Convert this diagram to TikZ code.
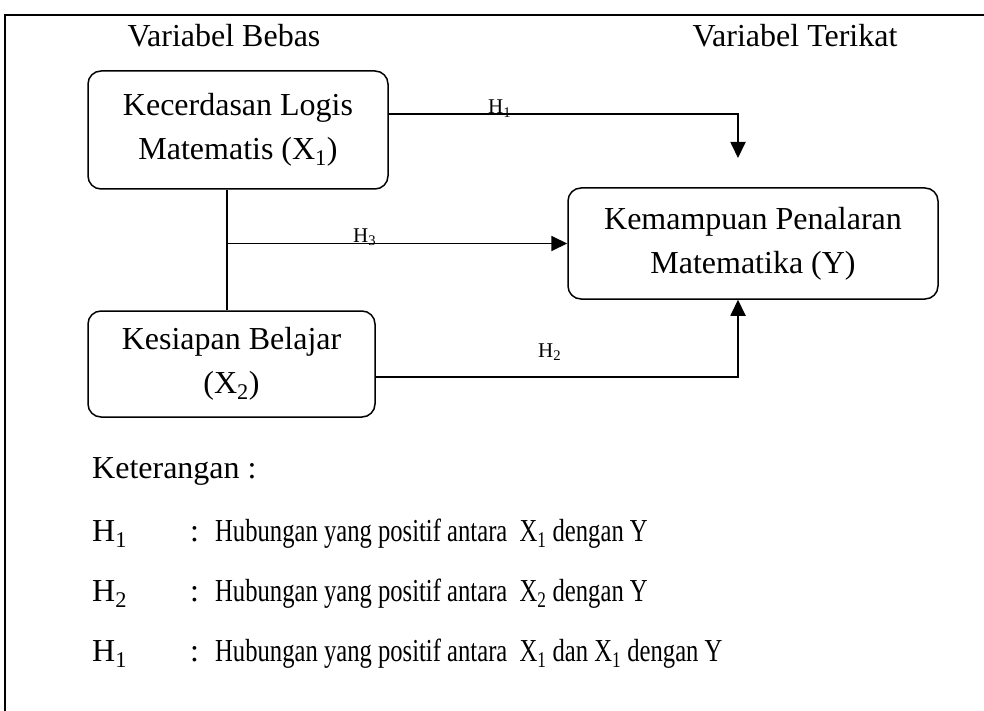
\documentclass[tikz,border=0pt]{standalone}
\usepackage{fontspec}
\usepackage{graphicx}
\setmainfont{Liberation Serif}
\usetikzlibrary{arrows.meta}
\newcommand{\narrowtext}[1]{\scalebox{0.77}[1]{#1}}
\begin{document}
\begin{tikzpicture}[x=1pt,y=-1pt,
  box/.style={draw, line width=1.5pt, rounded corners=13pt, align=center, inner sep=0pt, font=\fontsize{32}{44}\selectfont},
  conn/.style={line width=1.8pt},
  arr/.style={conn, -{Triangle[length=16pt,width=15pt]}},
  hlab/.style={font=\fontsize{21}{24}\selectfont, inner sep=0pt, anchor=base west},
  txt/.style={font=\fontsize{32}{38}\selectfont, inner sep=0pt, anchor=base west},
]
\useasboundingbox (0,0) rectangle (984,711);
\draw[line width=2.2pt] (984,15) -- (5,15) -- (5,711);

\node[txt, anchor=base] (vb) at (224,47) {Variabel Bebas};
\node[txt, anchor=base] (vt) at (795,47) {Variabel Terikat};

\node[box, minimum width=300pt, minimum height=118pt] (x1) at (238,130) {Kecerdasan Logis\\Matematis (X\textsubscript{1})};
\node[box, minimum width=370pt, minimum height=111pt] (yb) at (753,243.5) {Kemampuan Penalaran\\Matematika (Y)};
\node[box, minimum width=287pt, minimum height=106pt] (x2) at (231.5,364) {Kesiapan Belajar\\(X\textsubscript{2})};

\coordinate (c1) at (738,158);
\coordinate (vx) at (227,0);
\coordinate (cx) at (738,0);
\draw[arr] ([yshift=16pt]x1.east) -| (c1);
\draw[conn] (vx |- x1.south) -- (vx |- x2.north);
\draw[arr] (vx |- yb.west) -- (yb.west);
\draw[arr] ([yshift=-13pt]x2.east) -| (cx |- yb.south);

\node[hlab] (h1) at (488,114) {H\textsubscript{1}};
\node[hlab] (h3) at (353,242) {H\textsubscript{3}};
\node[hlab] (h2) at (538,357) {H\textsubscript{2}};

\node[txt] (ket) at (92,478) {Keterangan :};
\node[txt] (l1a) at (92,541) {H\textsubscript{1}};
\node[txt] (l1b) at (190,541) {:};
\node[txt] (l1c) at (215,541) {\narrowtext{Hubungan yang positif antara\ \ X\textsubscript{1} dengan Y}};
\node[txt] (l2a) at (92,601) {H\textsubscript{2}};
\node[txt] (l2b) at (190,601) {:};
\node[txt] (l2c) at (215,601) {\narrowtext{Hubungan yang positif antara\ \ X\textsubscript{2} dengan Y}};
\node[txt] (l3a) at (92,661) {H\textsubscript{1}};
\node[txt] (l3b) at (190,661) {:};
\node[txt] (l3c) at (215,661) {\narrowtext{Hubungan yang positif antara\ \ X\textsubscript{1} dan X\textsubscript{1} dengan Y}};
\end{tikzpicture}
\end{document}
